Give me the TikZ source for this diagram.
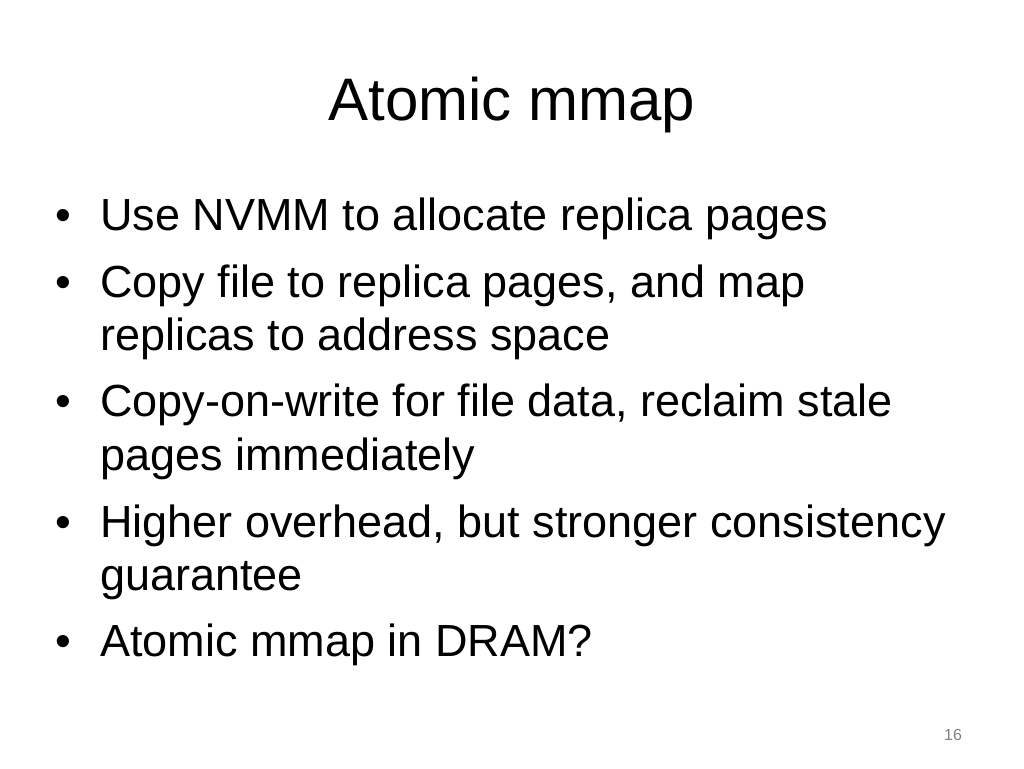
\documentclass[tikz,border=0pt]{standalone}
\usepackage{fontspec}
\setmainfont{Liberation Sans}
\begin{document}
\begin{tikzpicture}[x=1pt,y=-1pt,
  txt/.style={anchor=base west,inner sep=0pt,font=\fontsize{45}{54}\selectfont},
  bul/.style={anchor=base west,inner sep=0pt,font=\fontsize{45}{54}\selectfont}]
\useasboundingbox (0,0) rectangle (1024,768);
\node[anchor=base,inner sep=0pt,font=\fontsize{60}{70}\selectfont] (title) at (512,120) {Atomic mmap};
\foreach \y/\t/\n in {230/{Use NVMM to allocate replica pages}/a,
  297/{Copy file to replica pages, and map}/b,
  416/{Copy-on-write for file data, reclaim stale}/c,
  537/{Higher overhead, but stronger consistency}/d,
  656/{Atomic mmap in DRAM?}/e}{
  \node[bul] (b\n) at (55,\y) {•};
  \node[txt] (t\n) at (100,\y) {\t};
}
\node[txt] (tb2) at (100,350) {replicas to address space};
\node[txt] (tc2) at (100,470) {pages immediately};
\node[txt] (td2) at (100,590) {guarantee};
\node[anchor=base,inner sep=0pt,font=\fontsize{16}{18}\selectfont,text=gray] (pg) at (953,740) {16};
\end{tikzpicture}
\end{document}
